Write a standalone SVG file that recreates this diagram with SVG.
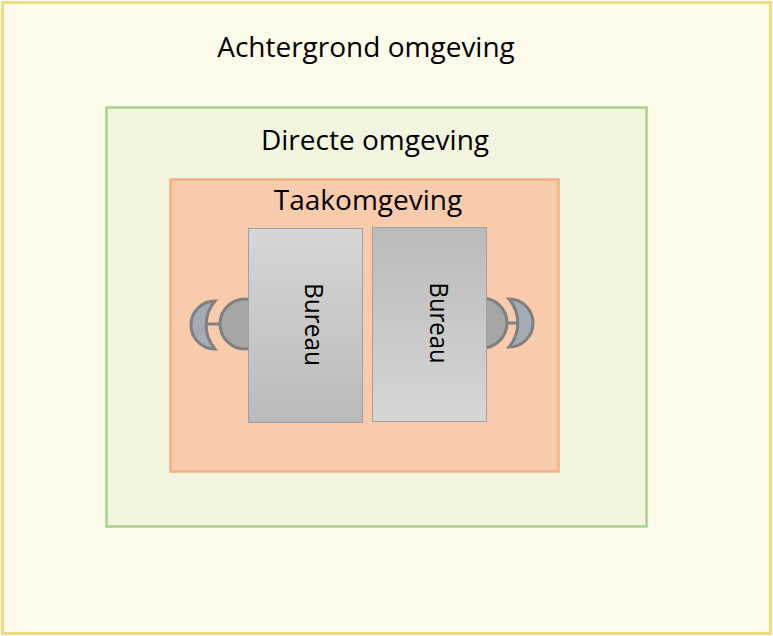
<svg xmlns="http://www.w3.org/2000/svg" width="773" height="636" viewBox="0 0 773 636">
<defs>
<linearGradient id="gDown" x1="0" y1="0" x2="0" y2="1">
<stop offset="0" stop-color="#d6d6d6"/>
<stop offset="1" stop-color="#bababa"/>
</linearGradient>
<linearGradient id="gUp" x1="0" y1="0" x2="0" y2="1">
<stop offset="0" stop-color="#bababa"/>
<stop offset="1" stop-color="#d6d6d6"/>
</linearGradient>
<style>
.lbl{font-family:"Open Sans","Noto Sans","DejaVu Sans",sans-serif;font-size:28px;fill:#000;text-anchor:middle}
.desk{stroke:#a0a0a0;stroke-width:1}
.dlbl{font-family:"Open Sans","Noto Sans","DejaVu Sans",sans-serif;font-size:25px;fill:#000;text-anchor:middle}
.seat{fill:#a6a6a6;stroke:#808080;stroke-width:3}
.back{fill:#a4abb3;stroke:#808080;stroke-width:3}
.arm{stroke:#808080;stroke-width:3}
</style>
</defs>
<g id="achtergrond">
<rect x="2.5" y="2.5" width="768" height="631" fill="#fffbeb" stroke="#f0dc82" stroke-width="3"/>
<text class="lbl" x="366" y="57">Achtergrond omgeving</text>
</g>
<g id="directe">
<rect x="106.5" y="107.5" width="540" height="419" fill="#f3f5e0" stroke="#a9d18e" stroke-width="2.5"/>
<text class="lbl" x="375" y="150">Directe omgeving</text>
</g>
<g id="taak">
<rect x="170.5" y="179.5" width="388" height="292" fill="#f8cbad" stroke="#f4b183" stroke-width="2.5"/>
<text class="lbl" x="368" y="210">Taakomgeving</text>
</g>
<g id="stoel-links">
<line class="arm" x1="205" y1="324" x2="220" y2="324"/>
<path class="back" d="M215,301 A24,24 0 0 0 215,349 A37,37 0 0 1 215,301 Z"/>
<circle class="seat" cx="245" cy="324" r="25"/>
</g>
<g id="stoel-rechts">
<line class="arm" x1="505" y1="323" x2="522" y2="323"/>
<path class="back" d="M509,299 A24,24 0 0 1 509,347 A37,37 0 0 0 509,299 Z"/>
<circle class="seat" cx="482" cy="323" r="25"/>
</g>
<g id="bureau-links">
<rect class="desk" x="248.5" y="228.5" width="114" height="194" fill="url(#gDown)"/>
<text class="dlbl" transform="translate(305,324.5) rotate(90)" textLength="83" lengthAdjust="spacingAndGlyphs">Bureau</text>
</g>
<g id="bureau-rechts">
<rect class="desk" x="372.5" y="227.5" width="114" height="194" fill="url(#gUp)"/>
<text class="dlbl" transform="translate(430,323) rotate(90)" textLength="81" lengthAdjust="spacingAndGlyphs">Bureau</text>
</g>
</svg>
